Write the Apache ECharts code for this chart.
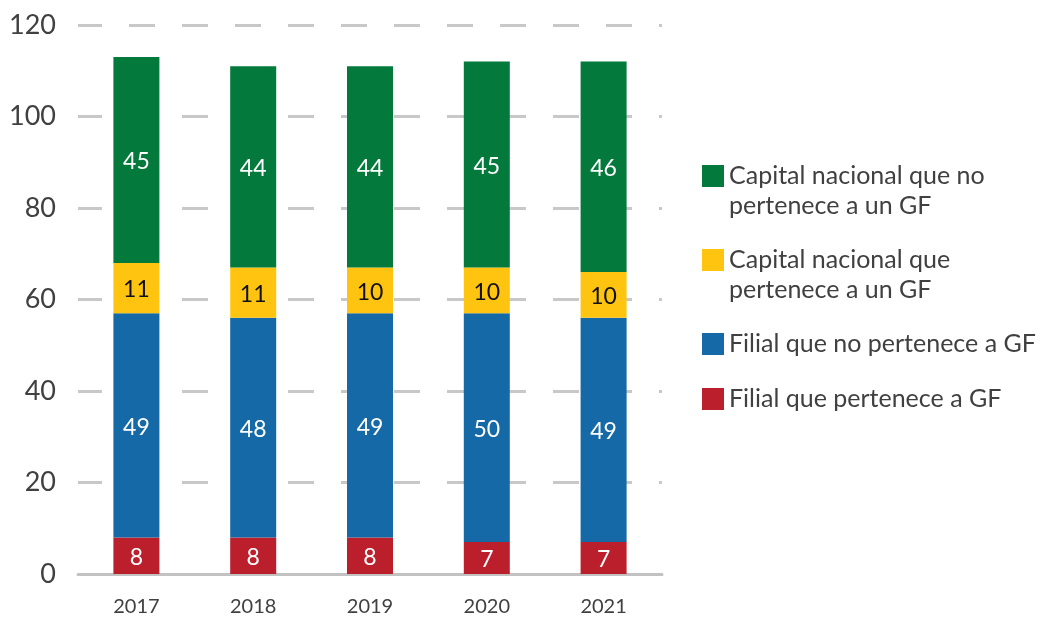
<!DOCTYPE html>
<html>
<head>
<meta charset="utf-8">
<script src="https://cdn.jsdelivr.net/npm/echarts@6/dist/echarts.min.js"></script>
<style>
  html, body { margin: 0; padding: 0; background: #fff; }
  #chart { width: 1040px; height: 617px; }
</style>
</head>
<body>
<div id="chart"></div>
<script>
// Years on the x axis
const years = ['2017', '2018', '2019', '2020', '2021'];

// Series names (stack order bottom → top)
const nameFilialGF = 'Filial que pertenece a GF';
const nameFilialNoGF = 'Filial que no pertenece a GF';
const nameNacionalGF = 'Capital nacional que\npertenece a un GF';
const nameNacionalNoGF = 'Capital nacional que no\npertenece a un GF';

// Values per year
const filialGF = [8, 8, 8, 7, 7];
const filialNoGF = [49, 48, 49, 50, 49];
const nacionalGF = [11, 11, 10, 10, 10];
const nacionalNoGF = [45, 44, 44, 45, 46];

// Y axis ticks
const yMin = 0, yMax = 120, yStep = 20;

const FONT = 'Lato, "Open Sans", sans-serif';
const TEXT = '#404040';

const colors = {
  filialGF: '#bb1f2b',
  filialNoGF: '#1569a6',
  nacionalGF: '#fec40f',
  nacionalNoGF: '#037a3b'
};

function barSeries(name, data, color, labelColor) {
  return {
    name: name,
    type: 'bar',
    stack: 'total',
    data: data,
    barWidth: 46,
    itemStyle: { color: color },
    label: {
      show: true,
      position: 'inside',
      offset: [0, 2],
      color: labelColor,
      fontFamily: FONT,
      fontSize: 23
    },
    emphasis: { disabled: true }
  };
}

// One legend block per entry; two-line names get an empty leading line so
// the square sits level with the first line of text
function legendBlock(name, top, lines) {
  return {
    data: [name],
    orient: 'vertical',
    left: 702,
    top: top,
    padding: 0,
    itemWidth: 22,
    itemHeight: 22,
    itemGap: 0,
    icon: 'rect',
    selectedMode: false,
    formatter: lines > 1 ? (n) => ' \n' + n : (n) => n,
    textStyle: {
      color: TEXT,
      fontFamily: FONT,
      fontSize: 25,
      lineHeight: 30
    }
  };
}

const chart = echarts.init(document.getElementById('chart'), null, { renderer: 'canvas' });

chart.setOption({
  animation: false,
  backgroundColor: '#ffffff',
  grid: { left: 78, right: 378, top: 25, bottom: 40, containLabel: false },
  legend: [
    legendBlock(nameNacionalNoGF, 131, 2),
    legendBlock(nameNacionalGF, 215, 2),
    legendBlock(nameFilialNoGF, 329, 1),
    legendBlock(nameFilialGF, 384, 1)
  ],
  xAxis: {
    type: 'category',
    data: years,
    axisLine: { show: true, lineStyle: { color: '#c2c2c2', width: 3 } },
    axisTick: { show: false },
    axisLabel: { color: TEXT, fontFamily: FONT, fontSize: 20, margin: 23 }
  },
  yAxis: {
    type: 'value',
    min: yMin,
    max: yMax,
    interval: yStep,
    axisLine: { show: false },
    axisTick: { show: false },
    axisLabel: { color: TEXT, fontFamily: FONT, fontSize: 27, margin: 22 },
    splitLine: {
      show: true,
      lineStyle: { color: '#c8c8c8', width: 3, type: [26, 27], dashOffset: 2 }
    }
  },
  series: [
    barSeries(nameFilialGF, filialGF, colors.filialGF, '#ffffff'),
    barSeries(nameFilialNoGF, filialNoGF, colors.filialNoGF, '#ffffff'),
    barSeries(nameNacionalGF, nacionalGF, colors.nacionalGF, '#111111'),
    barSeries(nameNacionalNoGF, nacionalNoGF, colors.nacionalNoGF, '#ffffff')
  ]
});
</script>
</body>
</html>
